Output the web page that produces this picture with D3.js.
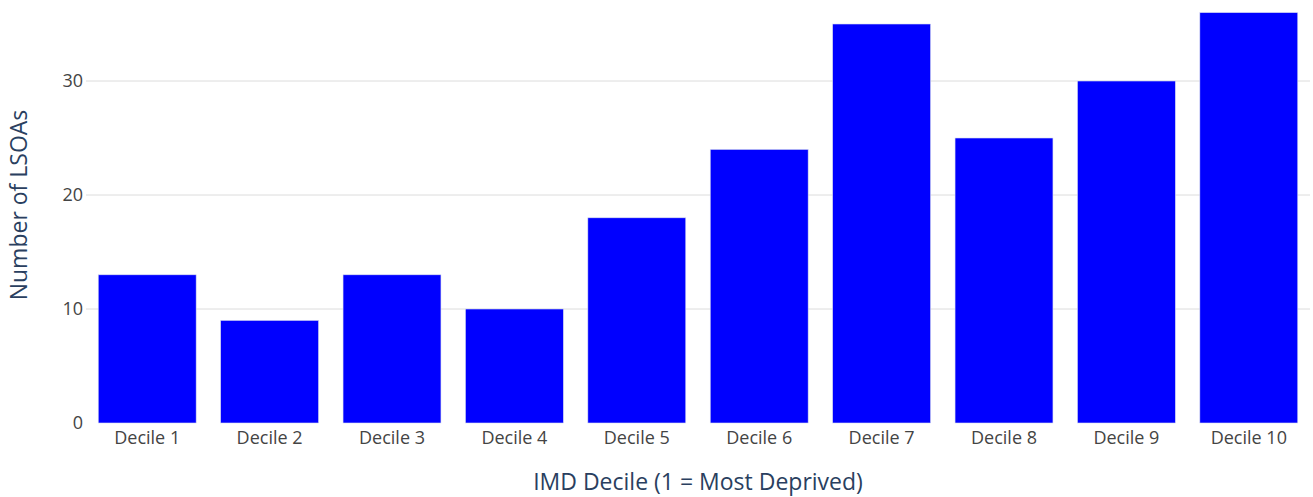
<!DOCTYPE html>
<html lang="en">
<head>
  <meta charset="UTF-8">
  <title>LSOAs by IMD Decile</title>
  <script src="https://d3js.org/d3.v7.min.js"></script>
  <style>
    body { margin: 0; background: #fff; font-family: "Open Sans", sans-serif; }
    .tick-label { font-size: 18px; fill: #444; }
    .axis-title { font-size: 23px; fill: #2a3f5f; }
  </style>
</head>
<body>
  <div id="chart"></div>
  <script>
    // Data
    const deciles = ["Decile 1", "Decile 2", "Decile 3", "Decile 4", "Decile 5",
                     "Decile 6", "Decile 7", "Decile 8", "Decile 9", "Decile 10"];
    const counts = [13, 9, 13, 10, 18, 24, 35, 25, 30, 36];
    const yTicks = [0, 10, 20, 30];

    const W = 1313, H = 497;
    const plot = { left: 86, right: 1310, top: 12.6, bottom: 423 };

    const svg = d3.select("#chart").append("svg")
      .attr("width", W)
      .attr("height", H);

    const x = d3.scaleBand()
      .domain(deciles)
      .range([plot.left, plot.right])
      .paddingInner(0.2)
      .paddingOuter(0.1);

    const y = d3.scaleLinear()
      .domain([0, 36])
      .range([plot.bottom, plot.top]);

    // Gridlines
    svg.append("g")
      .selectAll("line")
      .data(yTicks.filter(d => d > 0))
      .enter()
      .append("line")
      .attr("x1", plot.left)
      .attr("x2", plot.right)
      .attr("y1", d => y(d))
      .attr("y2", d => y(d))
      .attr("stroke", "#dcdcdc")
      .attr("stroke-width", 1);

    // Bars
    svg.append("g")
      .selectAll("rect")
      .data(counts)
      .enter()
      .append("rect")
      .attr("x", (d, i) => x(deciles[i]))
      .attr("y", d => y(d))
      .attr("width", x.bandwidth())
      .attr("height", d => y(0) - y(d))
      .attr("fill", "#0000ff")
      .attr("stroke", "#d8ddf0")
      .attr("stroke-width", 0.6);

    // Y tick labels
    svg.append("g")
      .selectAll("text")
      .data(yTicks)
      .enter()
      .append("text")
      .attr("class", "tick-label")
      .attr("x", plot.left - 3)
      .attr("y", d => y(d))
      .attr("dy", "0.35em")
      .style("text-anchor", "end")
      .text(d => d);

    // X tick labels
    svg.append("g")
      .selectAll("text")
      .data(deciles)
      .enter()
      .append("text")
      .attr("class", "tick-label")
      .attr("x", d => x(d) + x.bandwidth() / 2)
      .attr("y", 444)
      .style("text-anchor", "middle")
      .text(d => d);

    // Axis titles
    svg.append("text")
      .attr("class", "axis-title")
      .attr("x", (plot.left + plot.right) / 2)
      .attr("y", 490)
      .style("text-anchor", "middle")
      .text("IMD Decile (1 = Most Deprived)");

    svg.append("text")
      .attr("class", "axis-title")
      .attr("transform", "rotate(-90)")
      .attr("x", -205)
      .attr("y", 27)
      .style("text-anchor", "middle")
      .text("Number of LSOAs");
  </script>
</body>
</html>
